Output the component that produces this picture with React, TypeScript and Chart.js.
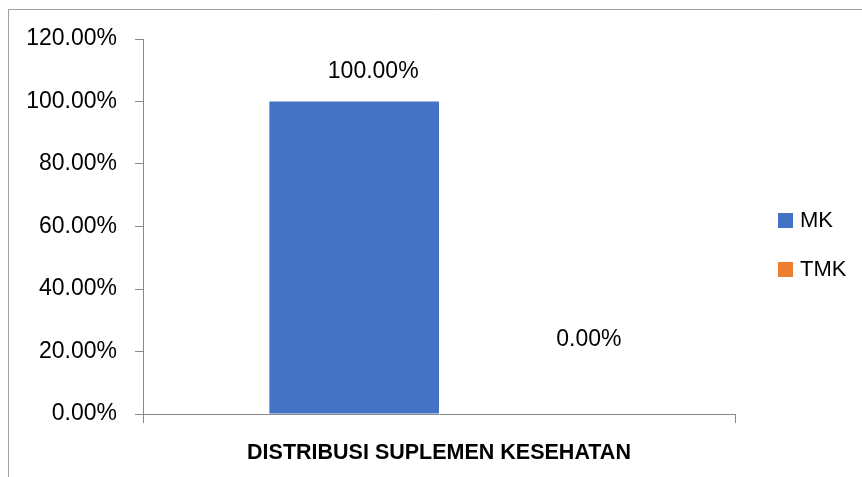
import React, { useEffect, useRef } from "react";
import { Chart, registerables } from "chart.js";

Chart.register(...registerables);

const categories = ["DISTRIBUSI SUPLEMEN KESEHATAN"];
const seriesNames = ["MK", "TMK"];
const mkValues = [1.0];
const tmkValues = [0.0];
const seriesColors = ["#4472C4", "#ED7D31"];
const yTicks = [0, 0.2, 0.4, 0.6, 0.8, 1.0, 1.2];

const FONT = "'Liberation Sans', Arial, sans-serif";
const AXIS = "#898989";

const fmt = (v: number) => (v * 100).toFixed(2) + "%";

const framePlugin = {
  id: "frame",
  beforeDraw(chart: any) {
    const ctx = chart.ctx;
    ctx.save();
    ctx.fillStyle = "#ffffff";
    ctx.fillRect(0, 0, chart.width, chart.height);
    ctx.strokeStyle = "#a0a0a0";
    ctx.lineWidth = 1;
    ctx.beginPath();
    ctx.moveTo(8.5, chart.height);
    ctx.lineTo(8.5, 9.5);
    ctx.lineTo(chart.width, 9.5);
    ctx.stroke();
    ctx.restore();
  },
};

const labelPlugin = {
  id: "valueLabels",
  afterDatasetsDraw(chart: any) {
    const ctx = chart.ctx;
    ctx.save();
    ctx.font = `23px ${FONT}`;
    ctx.fillStyle = "#000";
    ctx.textAlign = "center";
    ctx.textBaseline = "middle";
    const offsets = [
      { dx: 19, dy: -30 },
      { dx: 65, dy: -74 },
    ];
    chart.data.datasets.forEach((ds: any, i: number) => {
      const meta = chart.getDatasetMeta(i);
      meta.data.forEach((bar: any, j: number) => {
        const o = offsets[i];
        ctx.fillText(fmt(ds.data[j]), bar.x + o.dx, bar.y + o.dy);
      });
    });
    ctx.restore();
  },
};

const legendPlugin = {
  id: "customLegend",
  afterDraw(chart: any) {
    const ctx = chart.ctx;
    ctx.save();
    ctx.font = `22px ${FONT}`;
    ctx.textAlign = "left";
    ctx.textBaseline = "middle";
    chart.data.datasets.forEach((ds: any, i: number) => {
      const y = 213 + i * 49;
      ctx.fillStyle = ds.backgroundColor;
      ctx.fillRect(778, y, 15, 15);
      ctx.fillStyle = "#000";
      ctx.fillText(ds.label, 800, y + 8);
    });
    ctx.restore();
  },
};

export default function App() {
  const ref = useRef<HTMLCanvasElement | null>(null);
  useEffect(() => {
    if (!ref.current) return;
    const chart = new Chart(ref.current, {
      type: "bar",
      data: {
        labels: categories,
        datasets: [
          { label: seriesNames[0], data: mkValues, backgroundColor: seriesColors[0] },
          { label: seriesNames[1], data: tmkValues, backgroundColor: seriesColors[1] },
        ],
      },
      options: {
        animation: false,
        responsive: false,
        maintainAspectRatio: false,
        layout: { padding: { left: 0, top: 39, right: 127, bottom: 0 } },
        datasets: { bar: { categoryPercentage: 0.573, barPercentage: 1 } },
        plugins: { legend: { display: false }, tooltip: { enabled: false } },
        scales: {
          x: {
            grid: { drawOnChartArea: false, drawTicks: true, tickLength: 9, color: AXIS, offset: true },
            border: { display: true, color: AXIS },
            ticks: { color: "#000", font: { family: FONT, size: 21.5, weight: "bold" }, padding: 17 },
            afterFit(scale: any) {
              scale.height = 63;
            },
          },
          y: {
            min: 0,
            max: 1.2,
            afterBuildTicks(scale: any) {
              scale.ticks = yTicks.map((v) => ({ value: v }));
            },
            grid: { drawOnChartArea: false, drawTicks: true, tickLength: 8, color: AXIS },
            border: { display: true, color: AXIS },
            ticks: {
              color: "#000",
              font: { family: FONT, size: 23 },
              padding: 18,
              callback: (v: any) => fmt(Number(v)),
            },
            afterFit(scale: any) {
              scale.width = 143;
            },
          },
        },
      } as any,
      plugins: [framePlugin, labelPlugin, legendPlugin],
    });
    return () => chart.destroy();
  }, []);
  return (
    <div style={{ position: "absolute", left: 0, top: 0, width: 862, height: 477 }}>
      <canvas ref={ref} width={862} height={477} style={{ display: "block" }} />
    </div>
  );
}
